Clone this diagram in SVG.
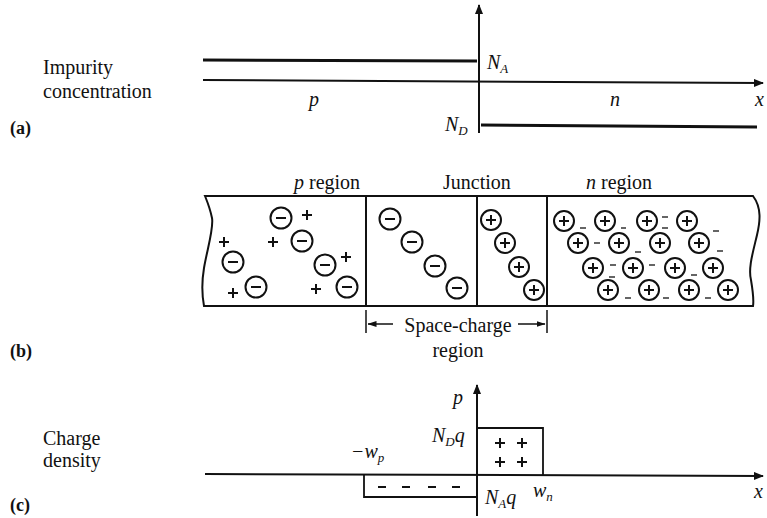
<svg xmlns="http://www.w3.org/2000/svg" width="767" height="518" viewBox="0 0 767 518">
<style>
text{font-family:"Liberation Serif","Times New Roman",serif;fill:#111;}
.lbl{font-size:20px;}
.it{font-style:italic;}
.sub{font-size:13px;font-style:italic;}
.bold{font-weight:bold;font-size:18px;}
.ln{stroke:#111;fill:none;}
.ion{fill:#fff;stroke:#111;stroke-width:2;}
.sg{stroke:#111;stroke-width:2;fill:none;}
.dash{stroke:#111;stroke-width:1.3;}
</style>
<defs>
<marker id="ah" markerWidth="10" markerHeight="8" refX="9" refY="4" orient="auto" markerUnits="userSpaceOnUse">
<path d="M0,0 L10,4 L0,8 Z" fill="#111"/>
</marker>
<marker id="sa" markerWidth="9" markerHeight="6" refX="8.5" refY="3" orient="auto" markerUnits="userSpaceOnUse">
<path d="M0,0 L9,3 L0,6 Z" fill="#111"/>
</marker>
<g id="neg"><circle r="10.5" class="ion"/><line x1="-5" y1="0" x2="5" y2="0" class="sg"/></g>
<g id="pos"><circle r="10" class="ion"/><line x1="-5" y1="0" x2="5" y2="0" class="sg"/><line x1="0" y1="-5" x2="0" y2="5" class="sg"/></g>
<g id="pl"><line x1="-5" y1="0" x2="5" y2="0" class="sg"/><line x1="0" y1="-5" x2="0" y2="5" class="sg"/></g>
<g id="mi"><line x1="-4" y1="0" x2="4" y2="0" class="sg"/></g>
</defs>

<!-- Panel (a) -->
<g id="panel-a-labels">
<text class="lbl" x="43" y="74">Impurity</text>
<text class="lbl" x="43" y="98">concentration</text>
<text class="bold" x="10" y="134">(a)</text>
</g>
<g id="connectors-a">
<line x1="203" y1="80" x2="763" y2="83" class="ln" stroke-width="2" marker-end="url(#ah)"/>
<line x1="479" y1="133" x2="479" y2="5" class="ln" stroke-width="2" marker-end="url(#ah)"/>
<line x1="203" y1="60" x2="477" y2="61" class="ln" stroke-width="3"/>
<line x1="481" y1="125" x2="757" y2="127" class="ln" stroke-width="3"/>
</g>
<g id="a-text">
<text class="lbl it" x="487" y="69">N<tspan class="sub" dy="4">A</tspan></text>
<text class="lbl it" x="445" y="131">N<tspan class="sub" dy="4">D</tspan></text>
<text class="lbl it" x="309" y="106">p</text>
<text class="lbl it" x="610" y="106">n</text>
<text class="lbl it" x="755" y="106">x</text>
</g>

<!-- Panel (b) -->
<g id="panel-b-labels">
<text class="lbl" x="294" y="189"><tspan class="it">p</tspan> region</text>
<text class="lbl" x="443" y="189">Junction</text>
<text class="lbl" x="586" y="189"><tspan class="it">n</tspan> region</text>
<text class="bold" x="10" y="357">(b)</text>
</g>
<g id="crystal">
<path d="M205,196 L753,196 C762,208 760,222 757,235 C753,252 748,268 751,280 C753,292 754,300 753,306 L204,306 C201,290 202,280 204,268 C207,250 214,228 212,218 C210,208 207,201 205,196 Z" class="ln" stroke-width="2"/>
<line x1="366" y1="196" x2="366" y2="306" class="ln" stroke-width="2"/>
<line x1="477" y1="196" x2="477" y2="306" class="ln" stroke-width="2"/>
<line x1="547" y1="196" x2="547" y2="306" class="ln" stroke-width="2"/>
</g>
<g id="p-region">
<use href="#neg" x="281" y="218"/>
<use href="#pl" x="307" y="215"/>
<use href="#pl" x="224" y="242"/>
<use href="#pl" x="273" y="242"/>
<use href="#neg" x="302" y="241"/>
<use href="#neg" x="233" y="262"/>
<use href="#neg" x="325" y="265"/>
<use href="#pl" x="346" y="257"/>
<use href="#pl" x="233" y="293"/>
<use href="#neg" x="256" y="287"/>
<use href="#pl" x="316" y="289"/>
<use href="#neg" x="347" y="287"/>
</g>
<g id="junction-neg">
<use href="#neg" x="390" y="219"/>
<use href="#neg" x="412" y="242"/>
<use href="#neg" x="435" y="266"/>
<use href="#neg" x="457" y="288"/>
</g>
<g id="junction-pos">
<use href="#pos" x="491" y="220"/>
<use href="#pos" x="505" y="243"/>
<use href="#pos" x="519" y="267"/>
<use href="#pos" x="534" y="290"/>
</g>
<g id="n-region">
<use href="#pos" x="564" y="221"/><use href="#pos" x="605" y="221"/><use href="#pos" x="647" y="221"/><use href="#pos" x="687" y="221"/>
<use href="#pos" x="578" y="243"/><use href="#pos" x="619" y="243"/><use href="#pos" x="660" y="243"/><use href="#pos" x="699" y="243"/>
<use href="#pos" x="593" y="268"/><use href="#pos" x="633" y="268"/><use href="#pos" x="675" y="268"/><use href="#pos" x="713" y="268"/>
<use href="#pos" x="608" y="290"/><use href="#pos" x="649" y="290"/><use href="#pos" x="689" y="290"/><use href="#pos" x="728" y="290"/>
<line x1="580" y1="228" x2="586" y2="228" class="dash"/>
<line x1="621" y1="228" x2="626" y2="228" class="dash"/>
<line x1="662" y1="217" x2="668" y2="217" class="dash"/>
<line x1="662" y1="228" x2="668" y2="228" class="dash"/>
<line x1="713" y1="231" x2="719" y2="231" class="dash"/>
<line x1="594" y1="243" x2="600" y2="243" class="dash"/>
<line x1="635" y1="252" x2="641" y2="252" class="dash"/>
<line x1="717" y1="251" x2="723" y2="251" class="dash"/>
<line x1="610" y1="265" x2="616" y2="265" class="dash"/>
<line x1="609" y1="277" x2="615" y2="277" class="dash"/>
<line x1="649" y1="265" x2="655" y2="265" class="dash"/>
<line x1="691" y1="275" x2="697" y2="275" class="dash"/>
<line x1="625" y1="298" x2="631" y2="298" class="dash"/>
<line x1="663" y1="298" x2="669" y2="298" class="dash"/>
<line x1="705" y1="298" x2="711" y2="298" class="dash"/>
</g>
<g id="connectors-b">
<line x1="366" y1="310" x2="366" y2="333" class="ln" stroke-width="1.5"/>
<line x1="547" y1="310" x2="547" y2="333" class="ln" stroke-width="1.5"/>
<line x1="393" y1="324" x2="368" y2="324" class="ln" stroke-width="1.5" marker-end="url(#sa)"/>
<line x1="518" y1="324" x2="545" y2="324" class="ln" stroke-width="1.5" marker-end="url(#sa)"/>
</g>
<g id="scr-label">
<text class="lbl" x="458" y="332" text-anchor="middle">Space-charge</text>
<text class="lbl" x="458" y="357" text-anchor="middle">region</text>
</g>

<!-- Panel (c) -->
<g id="panel-c-labels">
<text class="lbl" x="43" y="445">Charge</text>
<text class="lbl" x="43" y="467">density</text>
<text class="bold" x="10" y="511">(c)</text>
</g>
<g id="connectors-c">
<line x1="205" y1="474" x2="763" y2="476" class="ln" stroke-width="2" marker-end="url(#ah)"/>
<line x1="477" y1="516" x2="477" y2="385" class="ln" stroke-width="2" marker-end="url(#ah)"/>
<polyline points="477,428 543,428 543,475" class="ln" stroke-width="1.8"/>
<polyline points="364,475 364,497 477,497" class="ln" stroke-width="1.8"/>
</g>
<g id="c-text">
<text class="lbl it" x="453" y="404">p</text>
<text class="lbl it" x="432" y="442">N<tspan class="sub" dy="4">D</tspan><tspan dy="-4">q</tspan></text>
<text class="lbl it" x="485" y="504">N<tspan class="sub" dy="4">A</tspan><tspan dy="-4">q</tspan></text>
<text class="lbl it" x="533" y="497">w<tspan class="sub" dy="4">n</tspan></text>
<text class="lbl it" x="351" y="458">−w<tspan class="sub" dy="4">p</tspan></text>
<text class="lbl it" x="754" y="498">x</text>
</g>
<g id="c-charges">
<use href="#pl" x="500" y="443"/><use href="#pl" x="522" y="443"/>
<use href="#pl" x="500" y="462"/><use href="#pl" x="522" y="462"/>
<use href="#mi" x="382" y="487"/><use href="#mi" x="406" y="487"/>
<use href="#mi" x="432" y="487"/><use href="#mi" x="456" y="487"/>
</g>
</svg>
